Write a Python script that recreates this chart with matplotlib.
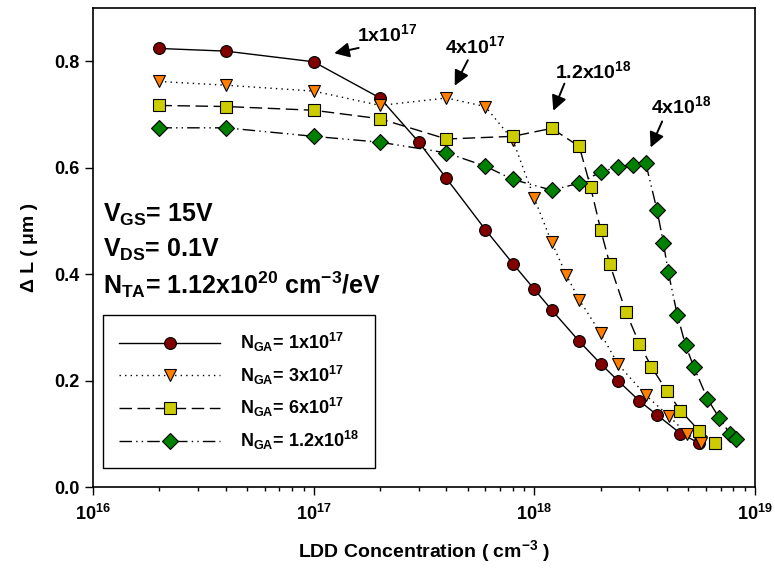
import numpy as np
import matplotlib
matplotlib.use('Agg')
import matplotlib.pyplot as plt

plt.rcParams['font.family'] = ['Liberation Sans', 'DejaVu Sans']
plt.rcParams['font.weight'] = 'bold'
plt.rcParams['mathtext.fontset'] = 'custom'
plt.rcParams['mathtext.rm'] = 'Liberation Sans:bold'
plt.rcParams['mathtext.bf'] = 'Liberation Sans:bold'
plt.rcParams['mathtext.it'] = 'Liberation Sans:bold'
plt.rcParams['mathtext.default'] = 'bf'

# N_GA = 1e17 (kolka)
x1 = [2e16, 4e16, 1e17, 2e17, 3e17, 4e17, 6e17, 8e17, 1e18, 1.2e18, 1.6e18,
      2e18, 2.4e18, 3e18, 3.6e18, 4.6e18, 5.6e18]
y1 = [0.824, 0.819, 0.799, 0.731, 0.648, 0.580, 0.484, 0.420, 0.372, 0.333,
      0.274, 0.232, 0.200, 0.162, 0.136, 0.101, 0.083]

# N_GA = 3e17 (trojkaty)
x2 = [2e16, 4e16, 1e17, 2e17, 4e17, 6e17, 8e17, 1e18, 1.2e18, 1.4e18, 1.6e18,
      2e18, 2.4e18, 3.2e18, 4.1e18, 4.9e18, 5.7e18]
y2 = [0.762, 0.755, 0.744, 0.717, 0.731, 0.715, 0.652, 0.543, 0.460, 0.398,
      0.352, 0.289, 0.231, 0.173, 0.133, 0.101, 0.084]

# N_GA = 6e17 (kwadraty)
x3 = [2e16, 4e16, 1e17, 2e17, 4e17, 8e17, 1.2e18, 1.6e18, 1.8e18, 2e18, 2.2e18,
      2.6e18, 3e18, 3.4e18, 4e18, 4.6e18, 5.6e18, 6.6e18]
y3 = [0.717, 0.715, 0.708, 0.692, 0.654, 0.659, 0.674, 0.640, 0.564, 0.484,
      0.419, 0.330, 0.269, 0.226, 0.180, 0.144, 0.106, 0.084]

# N_GA = 1.2e18 (romby)
x4 = [2e16, 4e16, 1e17, 2e17, 4e17, 6e17, 8e17, 1.2e18, 1.6e18, 2e18, 2.4e18,
      2.8e18, 3.2e18, 3.6e18, 3.85e18, 4.05e18, 4.45e18, 4.85e18, 5.3e18,
      6.1e18, 6.9e18, 7.7e18, 8.2e18]
y4 = [0.675, 0.675, 0.659, 0.648, 0.628, 0.603, 0.578, 0.558, 0.571, 0.592,
      0.602, 0.605, 0.609, 0.521, 0.459, 0.404, 0.324, 0.267, 0.225, 0.166,
      0.130, 0.101, 0.091]

labels = ['N$_{GA}$= 1x10$^{17}$', 'N$_{GA}$= 3x10$^{17}$',
          'N$_{GA}$= 6x10$^{17}$', 'N$_{GA}$= 1.2x10$^{18}$']
xticks = [1e16, 1e17, 1e18, 1e19]
xtick_labels = ['10$^{16}$', '10$^{17}$', '10$^{18}$', '10$^{19}$']
yticks = [0.0, 0.2, 0.4, 0.6, 0.8]

fig = plt.figure(figsize=(7.75, 5.71), dpi=100)
ax = fig.add_axes([0.12, 0.1466, 0.854, 0.8394])

ax.plot(x1, y1, color='black', lw=1, ls='-', marker='o', ms=8.5,
        mfc='#800000', mec='black', mew=0.8, label=labels[0])
ax.plot(x2, y2, color='black', lw=1, ls=(0, (1, 3)), marker='v', ms=9,
        mfc='#FF8000', mec='black', mew=0.8, label=labels[1])
ax.plot(x3, y3, color='black', lw=1, ls=(0, (9, 4)), marker='s', ms=8,
        mfc='#CCCC00', mec='black', mew=0.8, label=labels[2])
ax.plot(x4, y4, color='black', lw=1, ls=(0, (9, 3, 1, 3, 1, 3)), marker='D', ms=8,
        mfc='#008000', mec='black', mew=0.8, label=labels[3])

ax.set_xscale('log')
ax.set_xlim(1e16, 1e19)
ax.set_ylim(0, 0.9)
ax.set_xticks(xticks)
ax.set_xticklabels(xtick_labels)
ax.set_yticks(yticks)
ax.set_yticklabels(['%.1f' % v for v in yticks])
ax.tick_params(axis='both', which='major', direction='out', length=6, width=1,
               labelsize=13, top=False, right=False)
ax.tick_params(axis='x', which='minor', direction='out', length=3, width=1, top=False)
ax.tick_params(axis='x', which='major', pad=6)
for s in ax.spines.values():
    s.set_linewidth(1.2)

ax.set_xlabel('LDD Concentration ( cm$^{-3}$ )', fontsize=14, fontweight='bold', labelpad=10)
ax.set_ylabel('\u0394 L ( \u03bcm )', fontsize=14, fontweight='bold', labelpad=12)

# adnotacje ze strzalkami
ap = dict(arrowstyle='-|>,head_length=0.9,head_width=0.45', color='black', lw=1.4,
          shrinkA=0, shrinkB=0)
ax.annotate('', xy=(1.24e17, 0.815), xytext=(1.6e17, 0.825), arrowprops=ap)
ax.annotate('', xy=(4.36e17, 0.754), xytext=(5.0e17, 0.802), arrowprops=ap)
ax.annotate('', xy=(1.22e18, 0.707), xytext=(1.37e18, 0.758), arrowprops=ap)
ax.annotate('', xy=(3.37e18, 0.638), xytext=(3.8e18, 0.687), arrowprops=ap)
ax.text(1.58e17, 0.850, '1x10$^{17}$', fontsize=14, va='center', ha='left')
ax.text(3.94e17, 0.828, '4x10$^{17}$', fontsize=14, va='center', ha='left')
ax.text(1.24e18, 0.781, '1.2x10$^{18}$', fontsize=14, va='center', ha='left')
ax.text(3.4e18, 0.715, '4x10$^{18}$', fontsize=14, va='center', ha='left')

ax.text(0.015, 0.568, 'V$_{GS}$= 15V', transform=ax.transAxes, fontsize=18, va='center')
ax.text(0.015, 0.495, 'V$_{DS}$= 0.1V', transform=ax.transAxes, fontsize=18, va='center')
ax.text(0.015, 0.422, 'N$_{TA}$= 1.12x10$^{20}$ cm$^{-3}$/eV', transform=ax.transAxes,
        fontsize=18, va='center')

leg = ax.legend(loc='lower left', bbox_to_anchor=(0.0151, 0.040), fontsize=13,
                frameon=True, fancybox=False, edgecolor='black', framealpha=1,
                handlelength=5.6, handletextpad=1.1, labelspacing=0.53,
                borderpad=0.9, borderaxespad=0)
leg.get_frame().set_linewidth(1)

plt.savefig('out.png', dpi=100)
